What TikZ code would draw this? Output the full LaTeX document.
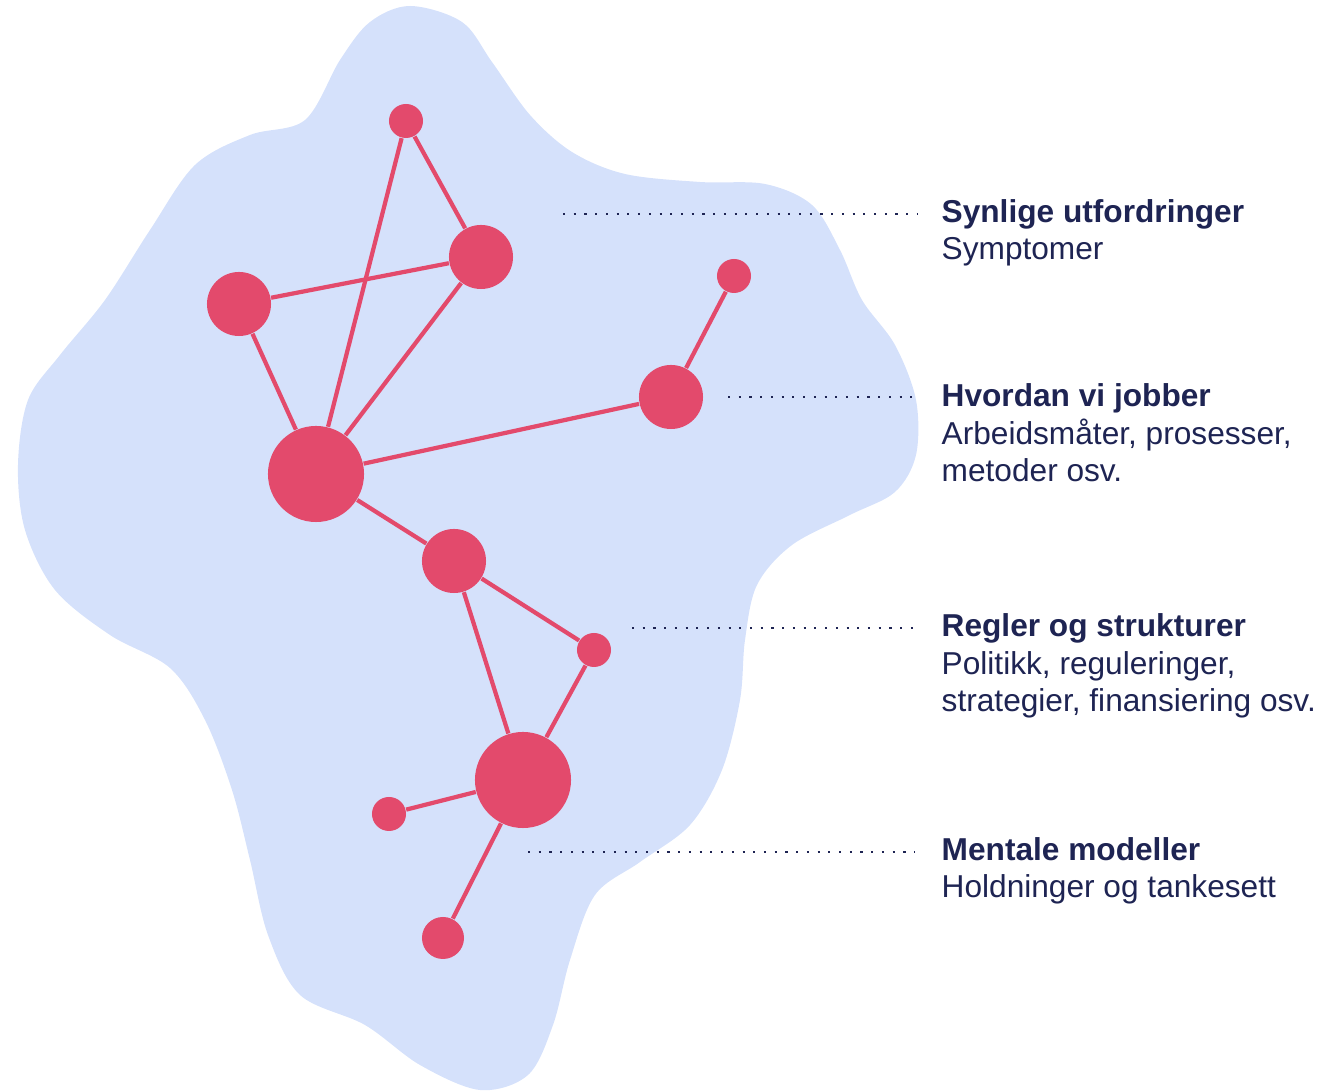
\documentclass[tikz,border=0pt]{standalone}
\usepackage{fontspec}
\setmainfont{Liberation Sans}
\usepackage{xcolor}
\usetikzlibrary{positioning}

\definecolor{blobblue}{HTML}{D5E1FB}
\definecolor{nodered}{HTML}{E34A6C}
\definecolor{navy}{HTML}{1E2453}

\begin{document}
\begin{tikzpicture}[x=0.01cm, y=-0.01cm,
    dot/.style={circle, fill=nodered, inner sep=0pt},
    dotS/.style={dot, minimum size=0.34cm},
    dotK/.style={dot, minimum size=0.42cm},
    dotM/.style={dot, minimum size=0.64cm},
    dotL/.style={dot, minimum size=0.96cm},
    link/.style={draw=nodered, line width=1.2pt},
    dotline/.style={draw=navy, line width=0.6pt, dash pattern=on 0.6pt off 2.45pt},
    label/.style={anchor=base west, inner sep=0pt, align=left, text=navy,
        font=\fontsize{9pt}{10.8pt}\selectfont}
    ]
    \useasboundingbox (0,0) rectangle (1341,1092);

    % background blob
    \fill[blobblue] plot[smooth cycle, tension=0.55] coordinates {
        (410,6) (462,22) (492,62) (530,115) (572,152) (625,174) (700,182)
        (765,184) (812,205) (840,250) (862,300) (895,345) (916,400)
        (916,455) (895,492) (850,515) (792,545) (757,585) (745,640)
        (740,700) (722,770) (690,825) (640,862) (595,895) (570,960)
        (553,1025) (528,1075) (480,1090) (420,1065) (365,1025) (300,995)
        (268,935) (250,860) (232,790) (205,720) (170,668) (110,635)
        (55,590) (25,530) (18,465) (28,400) (60,355) (105,300)
        (150,230) (195,165) (250,135) (305,120) (340,60) (370,22)
    };

    % nodes
    \node[dotS] (top)   at (406,121) {};
    \node[dotM] (upr)   at (481,257) {};
    \node[dotM] (upl)   at (239,304) {};
    \node[dotS] (far)   at (734,276) {};
    \node[dotM] (mid)   at (671,397) {};
    \node[dotL] (hub)   at (316,474) {};
    \node[dotM] (low)   at (454,561) {};
    \node[dotS] (side)  at (594,650) {};
    \node[dotL] (base)  at (523,780) {};
    \node[dotS] (leaf)  at (389,814) {};
    \node[dotK] (foot)  at (443,938) {};

    % links
    \draw[link] (top) -- (upr);
    \draw[link] (top) -- (hub);
    \draw[link] (upl) -- (upr);
    \draw[link] (upl) -- (hub);
    \draw[link] (upr) -- (hub);
    \draw[link] (far) -- (mid);
    \draw[link] (mid) -- (hub);
    \draw[link] (hub) -- (low);
    \draw[link] (low) -- (side);
    \draw[link] (low) -- (base);
    \draw[link] (side) -- (base);
    \draw[link] (leaf) -- (base);
    \draw[link] (base) -- (foot);

    % levels (anchored on the baseline of the last line)
    \node[label] (lvl1) at (941,260) {\textbf{Synlige utfordringer}\\Symptomer};
    \node[label] (lvl2) at (941,482) {\textbf{Hvordan vi jobber}\\Arbeidsmåter, prosesser,\\metoder osv.};
    \node[label] (lvl3) at (941,712) {\textbf{Regler og strukturer}\\Politikk, reguleringer,\\strategier, finansiering osv.};
    \node[label] (lvl4) at (941,898) {\textbf{Mentale modeller}\\Holdninger og tankesett};

    \coordinate (a1) at (563,214);
    \coordinate (b1) at (918,214);
    \coordinate (a2) at (728,397);
    \coordinate (b2) at (918,397);
    \coordinate (a3) at (632,628);
    \coordinate (b3) at (920,628);
    \coordinate (a4) at (528,852);
    \coordinate (b4) at (915,852);

    \draw[dotline] (a1) -- (b1);
    \draw[dotline] (a2) -- (b2);
    \draw[dotline] (a3) -- (b3);
    \draw[dotline] (a4) -- (b4);
\end{tikzpicture}
\end{document}
